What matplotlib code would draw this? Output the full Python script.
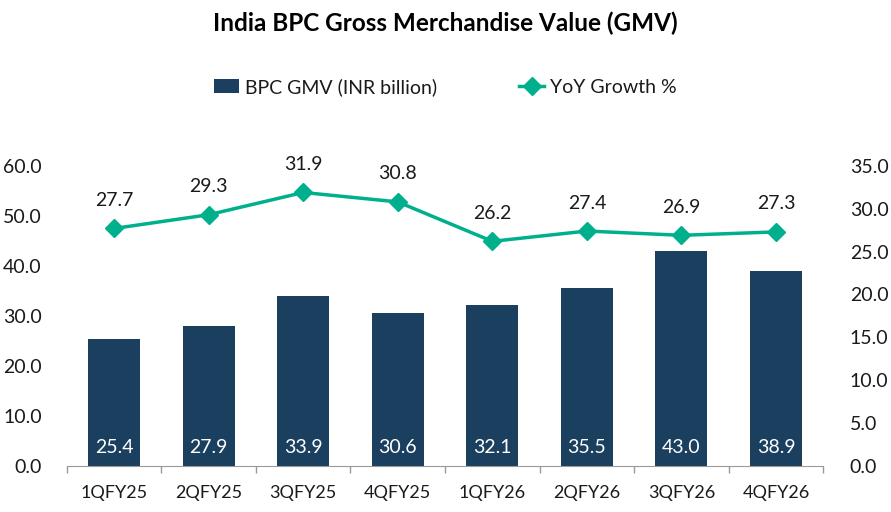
import numpy as np
import matplotlib.pyplot as plt

# chart data
quarters = ['1QFY25', '2QFY25', '3QFY25', '4QFY25', '1QFY26', '2QFY26', '3QFY26', '4QFY26']
gmv = [25.4, 27.9, 33.9, 30.6, 32.1, 35.5, 43.0, 38.9]
yoy = [27.7, 29.3, 31.9, 30.8, 26.2, 27.4, 26.9, 27.3]

bar_color = '#1B3F5E'
line_color = '#00B08C'
text_color = '#1a1a1a'

plt.rcParams['font.family'] = ['Lato', 'DejaVu Sans']

fig = plt.figure(figsize=(8.91, 5.12), dpi=100)
ax = fig.add_axes([0.075, 0.09, 0.849, 0.586])
ax2 = ax.twinx()

x = np.arange(len(quarters))
ax.bar(x, gmv, width=0.55, color=bar_color, zorder=2, label='BPC GMV (INR billion)')
for xi, v in zip(x, gmv):
    ax.text(xi, 3.6, f'{v:.1f}', ha='center', va='center', color='white', fontsize=14)

ax2.plot(x, yoy, color=line_color, lw=2.5, marker='D', markersize=9, label='YoY Growth %', zorder=3)
for xi, v in zip(x, yoy):
    ax2.annotate(f'{v:.1f}', (xi, v), xytext=(0, 14), textcoords='offset points',
                 ha='center', va='bottom', fontsize=14, color=text_color)

ax.set_ylim(0, 60)
ax2.set_ylim(0, 35)
ax.set_xlim(-0.5, len(quarters) - 0.5)
ax.set_yticks(np.arange(0, 61, 10))
ax2.set_yticks(np.arange(0, 36, 5))
ax.set_yticklabels([f'{v:.1f}' for v in np.arange(0, 61, 10)])
ax2.set_yticklabels([f'{v:.1f}' for v in np.arange(0, 36, 5)])

# boundary ticks on x axis, labels at centers
ax.set_xticks(np.arange(-0.5, len(quarters), 1))
ax.set_xticklabels([])
ax.set_xticks(x, minor=True)
ax.set_xticklabels(quarters, minor=True)
ax.tick_params(axis='x', which='major', length=5, color='#9a9a9a', width=1)
ax.tick_params(axis='x', which='minor', length=0, pad=14, labelsize=13, labelcolor=text_color)
ax.tick_params(axis='y', length=0, pad=18, labelsize=14, labelcolor=text_color)
ax2.tick_params(axis='y', length=0, pad=19, labelsize=14, labelcolor=text_color)

for a in (ax, ax2):
    for s in ('top', 'left', 'right', 'bottom'):
        a.spines[s].set_visible(False)
ax.spines['bottom'].set_visible(True)
ax.spines['bottom'].set_color('#9a9a9a')

fig.text(0.5, 0.955, 'India BPC Gross Merchandise Value (GMV)', ha='center', va='center',
         fontsize=17.5, fontweight='bold', color='black')

h1, l1 = ax.get_legend_handles_labels()
h2, l2 = ax2.get_legend_handles_labels()
fig.legend(h1 + h2, l1 + l2, loc='center', bbox_to_anchor=(0.5, 0.83), ncol=2, frameon=False,
           fontsize=14, columnspacing=4.2, handlelength=1.3, handletextpad=0.3,
           labelcolor=text_color)

fig.savefig('out.png', dpi=100)
